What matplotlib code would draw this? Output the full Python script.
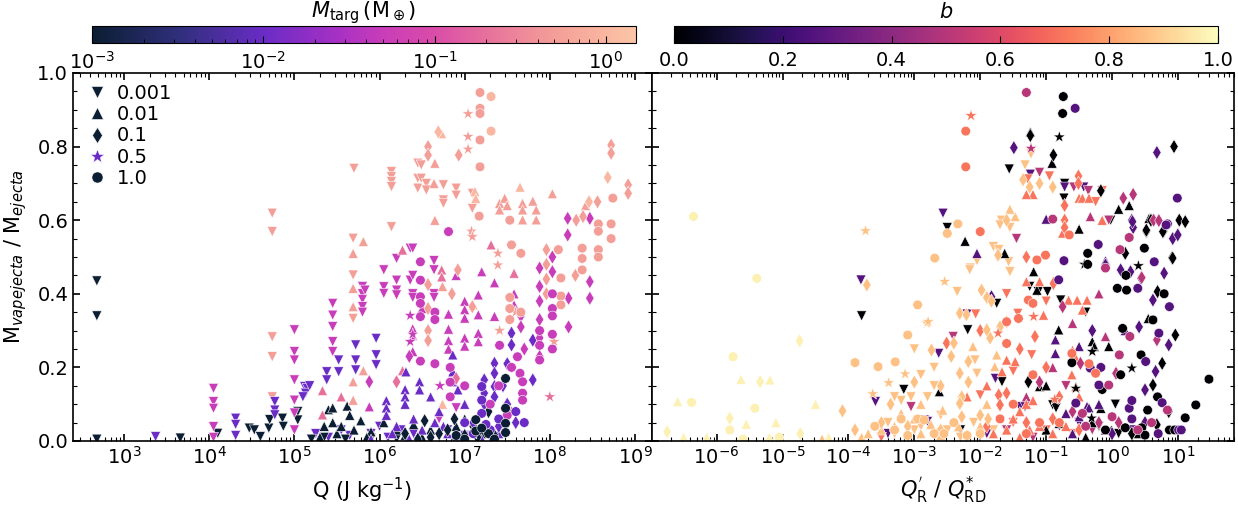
import numpy as np
import matplotlib
matplotlib.use("Agg")
import matplotlib.pyplot as plt
from matplotlib.colors import LinearSegmentedColormap, LogNorm, Normalize
from matplotlib.ticker import MultipleLocator, LogLocator, NullFormatter
from matplotlib.lines import Line2D
import matplotlib.cm as cm

# ---------------- data ----------------
# Left panel: (log10 Q [J/kg], Mvap/Mej, M_targ [M_earth])
left_v = [
    (2.68,0.435,0.001),(2.68,0.34,0.001),(2.68,0.005,0.001),(3.66,0.008,0.001),(4.10,0.021,0.001),
    (3.37,0.012,0.01),
    (4.05,0.143,0.05),(4.05,0.107,0.05),(4.05,0.089,0.05),(4.05,0.039,0.05),(4.05,0.01,0.05),
    (4.31,0.062,0.01),(4.31,0.045,0.01),(4.31,0.015,0.01),
    (4.47,0.035,0.001),(4.53,0.030,0.001),(4.60,0.012,0.001),(4.70,0.035,0.001),(4.71,0.058,0.001),
    (4.86,0.062,0.001),(4.87,0.040,0.001),(5.04,0.080,0.001),(5.04,0.057,0.001),
    (4.74,0.619,0.5),(4.74,0.569,0.5),(4.74,0.283,0.5),(4.74,0.229,0.5),(4.74,0.120,0.5),
    (4.77,0.107,0.01),(4.77,0.084,0.01),(4.77,0.071,0.01),
    (5.00,0.302,0.05),(5.00,0.243,0.05),(5.00,0.220,0.05),(5.00,0.166,0.05),(5.00,0.111,0.05),
    (5.00,0.076,0.05),(5.00,0.030,0.05),
    (5.12,0.148,0.01),(5.15,0.143,0.01),(5.13,0.130,0.01),(5.10,0.120,0.01),(5.18,0.150,0.01),
    (5.45,0.374,0.05),(5.45,0.342,0.05),(5.45,0.311,0.05),(5.45,0.270,0.05),(5.45,0.243,0.05),
    (5.52,0.220,0.01),(5.52,0.188,0.01),(5.38,0.188,0.01),(5.38,0.166,0.01),
    (5.69,0.551,0.5),(5.69,0.451,0.5),(5.69,0.333,0.5),(5.70,0.741,0.5),
    (5.80,0.420,0.05),(5.80,0.400,0.05),(5.80,0.385,0.05),(5.80,0.365,0.05),(5.80,0.350,0.05),(5.83,0.410,0.05),
    (5.72,0.261,0.01),(5.72,0.220,0.01),(5.72,0.193,0.01),
    (5.96,0.279,0.01),(5.96,0.234,0.01),(5.96,0.207,0.01),
    (6.05,0.465,0.05),(6.05,0.419,0.05),(6.05,0.401,0.05),
    (6.14,0.582,0.5),(6.14,0.732,0.5),(6.14,0.718,0.5),(6.14,0.705,0.5),(6.14,0.691,0.5),
    (6.20,0.496,0.05),(6.20,0.437,0.05),(6.20,0.410,0.05),(6.20,0.397,0.05),
    (6.36,0.524,0.05),(6.36,0.437,0.05),
    (6.45,0.755,0.5),(6.45,0.714,0.5),(6.45,0.687,0.5),(6.49,0.750,0.5),(6.49,0.714,0.5),
    (6.55,0.700,0.5),(6.55,0.682,0.5),(6.75,0.696,0.5),(6.75,0.655,0.5),(6.75,0.646,0.5),
    (6.90,0.687,0.5),(6.90,0.668,0.5),(7.09,0.673,0.5),(7.09,0.632,0.5),
    (6.39,0.524,0.05),(6.64,0.490,0.05),(6.64,0.465,0.05),(6.39,0.450,0.05),(6.39,0.400,0.05),
    (6.39,0.390,0.05),(6.64,0.400,0.05),(6.64,0.390,0.05),(6.70,0.06,0.05),(6.90,0.09,0.05),
    (5.25,0.02,0.01),(5.40,0.01,0.01),(5.55,0.03,0.01),(5.65,0.015,0.01),(5.90,0.02,0.01),
    (6.00,0.04,0.01),(6.10,0.01,0.01),(6.25,0.03,0.01),(6.40,0.02,0.01),(6.60,0.01,0.01),
    (6.80,0.03,0.01),(7.00,0.015,0.01),(7.30,0.01,0.01),
    (5.20,0.005,0.001),(5.35,0.01,0.001),(5.60,0.005,0.001),(5.90,0.008,0.001),(6.20,0.006,0.001),
]
left_t = [
    (5.40,0.085,0.001),(5.45,0.09,0.001),(5.45,0.05,0.001),(5.62,0.095,0.001),(5.78,0.055,0.001),
    (5.50,0.02,0.001),(5.55,0.04,0.001),(5.70,0.03,0.001),(5.90,0.025,0.001),(6.05,0.05,0.001),
    (6.20,0.03,0.001),(6.30,0.015,0.001),(5.30,0.01,0.001),(5.85,0.01,0.001),(6.50,0.01,0.001),(6.40,0.045,0.001),
    (5.65,0.07,0.001),(5.35,0.04,0.001),(6.60,0.03,0.001),(6.90,0.04,0.001),(7.20,0.02,0.001),(7.00,0.06,0.001),
    (5.33,0.137,0.2),(5.33,0.071,0.2),(6.27,0.519,0.2),(6.27,0.191,0.2),(6.73,0.465,0.2),(6.73,0.446,0.2),
    (7.31,0.533,0.2),(7.58,0.456,0.2),(5.55,0.12,0.2),
    (5.69,0.51,0.5),(5.69,0.415,0.5),(5.69,0.365,0.5),(5.81,0.542,0.5),(5.69,0.161,0.5),(5.69,0.111,0.5),
    (5.81,0.191,0.5),(6.65,0.755,0.5),(6.64,0.70,0.5),(6.65,0.60,0.5),(7.41,0.646,0.5),(7.41,0.628,0.5),
    (7.68,0.646,0.5),(7.68,0.628,0.5),(7.68,0.601,0.5),(7.84,0.628,0.5),(7.84,0.601,0.5),(7.47,0.66,0.5),
    (7.50,0.64,0.5),(7.80,0.652,0.5),(8.03,0.672,0.5),(8.42,0.64,0.5),(6.74,0.42,0.5),
    (6.73,0.835,1.0),(7.12,0.678,1.0),(7.13,0.659,1.0),(7.65,0.69,1.0),(6.74,0.10,1.0),(7.10,0.37,1.0),
    (5.88,0.093,0.05),(6.39,0.305,0.05),(6.39,0.287,0.05),(6.39,0.243,0.05),(6.81,0.345,0.05),(6.81,0.304,0.05),
    (6.81,0.273,0.05),(6.81,0.25,0.05),(7.00,0.38,0.05),(7.00,0.357,0.05),(7.00,0.334,0.05),(7.00,0.28,0.05),
    (7.00,0.258,0.05),(7.16,0.397,0.05),(7.16,0.343,0.05),(7.16,0.293,0.05),(7.16,0.27,0.05),(7.35,0.43,0.05),
    (7.35,0.339,0.05),(7.58,0.40,0.05),(7.58,0.37,0.05),(6.90,0.45,0.05),(7.20,0.46,0.05),(6.50,0.36,0.05),
    (6.08,0.11,0.01),(6.08,0.09,0.01),(6.08,0.07,0.01),(6.30,0.14,0.01),(6.30,0.12,0.01),(6.30,0.10,0.01),
    (6.31,0.188,0.01),(6.47,0.161,0.01),(6.47,0.139,0.01),(6.86,0.234,0.01),(6.86,0.188,0.01),(6.86,0.161,0.01),
    (6.92,0.139,0.01),(6.60,0.12,0.01),(6.70,0.08,0.01),(7.00,0.10,0.01),(6.20,0.04,0.01),(6.50,0.03,0.01),
    (6.80,0.02,0.01),(7.10,0.03,0.01),(6.40,0.06,0.01),(6.65,0.05,0.01),
    (5.90,0.005,0.01),(6.15,0.02,0.01),(6.35,0.005,0.01),(6.75,0.04,0.01),(6.95,0.01,0.01),(7.20,0.005,0.01),(7.40,0.02,0.01),
]
left_d = [
    (6.53,0.055,0.001),(6.88,0.06,0.001),(7.28,0.08,0.001),(7.28,0.035,0.001),(6.70,0.02,0.001),
    (7.00,0.015,0.001),(6.60,0.01,0.001),(7.15,0.01,0.001),(6.30,0.02,0.001),
    (6.45,0.005,0.001),(6.80,0.03,0.001),(7.10,0.04,0.001),(7.35,0.015,0.001),
    (7.35,0.211,0.01),(7.35,0.184,0.01),(7.35,0.148,0.01),(7.35,0.12,0.01),(7.23,0.166,0.01),(7.23,0.13,0.01),
    (7.23,0.10,0.01),(7.55,0.293,0.01),(7.55,0.261,0.01),(7.80,0.274,0.01),(7.80,0.166,0.01),(7.50,0.21,0.01),
    (7.45,0.15,0.01),(7.10,0.05,0.01),(7.40,0.04,0.01),(7.60,0.05,0.01),(7.50,0.10,0.01),
    (5.88,0.161,0.05),(6.35,0.23,0.05),(7.66,0.34,0.05),(7.66,0.31,0.05),(7.88,0.47,0.05),(7.88,0.42,0.05),
    (7.88,0.38,0.05),(7.88,0.33,0.05),(7.88,0.28,0.05),(7.88,0.23,0.05),(8.03,0.50,0.05),(8.03,0.46,0.05),
    (8.21,0.605,0.05),(8.21,0.56,0.05),(8.47,0.605,0.05),(8.47,0.433,0.05),(8.47,0.388,0.05),(8.22,0.388,0.05),
    (8.22,0.31,0.05),(7.70,0.25,0.05),
    (6.20,0.161,0.2),(6.90,0.17,0.2),
    (6.57,0.80,0.5),(6.57,0.777,0.5),(6.93,0.777,0.5),(6.92,0.465,0.5),(6.57,0.425,0.5),(6.57,0.36,0.5),
    (6.57,0.30,0.5),(6.57,0.273,0.5),(7.09,0.365,0.5),(7.96,0.52,0.5),(7.96,0.48,0.5),(7.96,0.44,0.5),
    (7.96,0.40,0.5),(8.30,0.45,0.5),(8.31,0.60,0.5),(8.39,0.61,0.5),(8.72,0.804,0.5),(8.72,0.782,0.5),
    (8.92,0.696,0.5),(8.92,0.673,0.5),(8.56,0.65,0.5),(6.85,0.40,0.5),
    (6.69,0.84,1.0),(8.68,0.716,1.0),(8.46,0.65,1.0),
]
left_s = [
    (6.36,0.341,0.05),(6.36,0.27,0.05),(6.39,0.29,0.05),(6.71,0.15,0.05),
    (7.04,0.889,0.5),(7.04,0.827,0.5),(7.04,0.793,0.5),(7.08,0.57,0.5),(7.09,0.555,0.5),(7.39,0.51,0.5),
    (7.39,0.478,0.5),(7.41,0.30,0.5),(7.60,0.35,0.5),(8.05,0.27,0.5),
    (7.55,0.08,0.2),(8.00,0.12,0.2),(7.10,0.02,0.01),
]
left_o = [
    (7.18,0.947,0.5),(7.18,0.904,0.5),(7.18,0.89,0.5),(7.18,0.818,0.5),(7.18,0.745,0.5),(7.17,0.611,0.5),
    (7.53,0.60,0.5),(7.55,0.533,0.5),(7.66,0.51,0.5),(7.53,0.39,0.5),(7.53,0.36,0.5),(7.53,0.33,0.5),
    (7.66,0.35,0.5),(8.13,0.443,0.5),(8.13,0.394,0.5),(8.13,0.37,0.5),(8.38,0.524,0.5),(8.38,0.496,0.5),
    (8.38,0.465,0.5),(8.57,0.59,0.5),(8.57,0.57,0.5),(8.72,0.59,0.5),(8.72,0.55,0.5),(8.57,0.52,0.5),
    (8.57,0.50,0.5),(8.74,0.66,0.5),(8.10,0.52,0.5),
    (7.31,0.936,1.0),(7.31,0.842,1.0),
    (6.81,0.569,0.05),(6.48,0.487,0.05),(6.48,0.437,0.05),(6.48,0.392,0.05),(6.48,0.374,0.05),(6.48,0.338,0.05),
    (6.65,0.35,0.05),(6.65,0.33,0.05),(6.48,0.217,0.05),(6.65,0.21,0.05),(6.83,0.20,0.05),(6.83,0.16,0.05),
    (6.83,0.12,0.05),(7.41,0.26,0.05),(7.62,0.229,0.05),(7.65,0.184,0.05),(7.68,0.161,0.05),(7.68,0.13,0.05),
    (7.68,0.111,0.05),(8.03,0.40,0.05),(8.03,0.36,0.05),(8.03,0.34,0.05),(8.03,0.29,0.05),(8.03,0.25,0.05),
    (7.88,0.30,0.05),(7.88,0.26,0.05),(7.88,0.22,0.05),(7.00,0.15,0.05),(7.30,0.10,0.05),(7.50,0.07,0.05),
    (7.40,0.15,0.05),(7.55,0.20,0.05),
    (7.20,0.148,0.01),(7.20,0.111,0.01),(7.20,0.075,0.01),(7.00,0.05,0.01),(7.30,0.03,0.01),(6.90,0.01,0.01),
    (7.10,0.02,0.01),(7.40,0.06,0.01),(7.25,0.045,0.01),(7.60,0.08,0.01),(7.70,0.05,0.01),
    (7.48,0.17,0.001),(7.48,0.089,0.001),(7.48,0.048,0.001),(7.48,0.023,0.001),(7.13,0.058,0.001),
    (7.13,0.027,0.001),(7.28,0.02,0.001),(6.90,0.015,0.001),(7.35,0.005,0.001),(7.00,0.005,0.001),(7.20,0.035,0.001),
]

# Right panel: (log10 Q'_R/Q*_RD, Mvap/Mej, b)
right_v = [
    (-3.80,0.34,0),(-3.16,0.14,0),(-2.50,0.58,0),(-2.19,0.302,0),(-1.75,0.374,0),(-1.67,0.161,0),(-1.56,0.739,0),
    (-1.25,0.42,0),(-1.12,0.406,0),(-0.98,0.406,0),(-0.78,0.383,0),(-0.72,0.70,0),(-0.73,0.66,0),(-0.02,0.60,0),
    (-0.90,0.098,0),(-0.85,0.09,0),(0.05,0.10,0),(-2.30,0.03,0),(0.10,0.02,0),(-0.20,0.04,0),(-0.40,0.35,0),
    (-3.81,0.4375,0.26),(-3.59,0.107,0.26),(-2.565,0.619,0.26),(-2.63,0.238,0.26),(-1.77,0.17,0.26),(-1.24,0.725,0.26),
    (-0.72,0.69,0.26),(-0.43,0.69,0.26),(-1.40,0.093,0.26),(-1.32,0.093,0.26),(-2.85,0.057,0.26),(-2.80,0.053,0.26),
    (-2.20,0.345,0.26),(-1.90,0.02,0.26),(-3.40,0.02,0.26),(0.30,0.03,0.26),(-0.50,0.05,0.26),
    (-3.05,0.093,0.5),(-1.10,0.73,0.5),(-0.58,0.69,0.5),(-0.36,0.68,0.5),(-0.05,0.60,0.5),(-2.41,0.284,0.5),
    (-1.45,0.55,0.5),(-2.00,0.015,0.5),(-1.60,0.03,0.5),(-1.20,0.01,0.5),(-0.80,0.04,0.5),(-0.30,0.03,0.5),
    (-0.70,0.15,0.5),
    (-1.28,0.712,0.71),(-0.95,0.72,0.71),(-0.15,0.68,0.71),(-0.25,0.65,0.71),(-2.07,0.345,0.71),(-1.60,0.40,0.71),
    (-1.43,0.347,0.71),(-1.22,0.234,0.71),(-1.50,0.19,0.71),(-2.00,0.125,0.71),(-1.00,0.38,0.71),(-3.50,0.01,0.71),
    (-2.60,0.02,0.71),(-1.50,0.05,0.71),(-1.00,0.03,0.71),(-0.60,0.02,0.71),
    (-1.23,0.78,0.87),(-1.32,0.75,0.87),(-3.05,0.12,0.87),(-3.20,0.11,0.87),(-1.68,0.60,0.87),(-1.55,0.58,0.87),
    (-1.70,0.587,0.87),(-1.80,0.528,0.87),(-1.57,0.487,0.87),(-1.55,0.46,0.87),(-1.72,0.52,0.87),(-2.05,0.49,0.87),
    (-2.15,0.47,0.87),(-2.16,0.465,0.87),(-2.35,0.406,0.87),(-2.08,0.22,0.87),(-2.05,0.184,0.87),(-2.70,0.15,0.87),
    (-2.90,0.18,0.87),(-3.40,0.05,0.87),(-3.00,0.03,0.87),(-2.80,0.12,0.87),(-2.30,0.01,0.87),(-2.60,0.07,0.87),
    (-3.30,0.02,0.87),(-2.90,0.04,0.87),(-2.50,0.03,0.87),(-2.10,0.05,0.87),(-1.80,0.03,0.87),(-3.00,0.25,0.87),
    (-2.70,0.20,0.87),(-3.30,0.12,0.87),
]
right_t = [
    (-1.24,0.84,0),(-0.91,0.755,0),(-2.23,0.543,0),(-1.63,0.51,0),(-1.19,0.46,0),(-1.14,0.41,0),(-0.50,0.576,0),
    (0.10,0.63,0),(0.26,0.64,0),(0.56,0.605,0),(-0.81,0.302,0),(-0.30,0.27,0),(-0.27,0.257,0),(-0.05,0.257,0),
    (0.55,0.333,0),(-2.62,0.134,0),(-0.17,0.089,0),(-0.01,0.03,0),(-0.80,0.048,0),(-1.00,0.03,0),(-1.10,0.148,0),
    (-1.00,0.15,0),(-0.40,0.01,0),(-0.30,0.05,0),(0.40,0.02,0),
    (-1.00,0.603,0.26),(-2.05,0.51,0.26),(-0.10,0.49,0.26),(-0.86,0.275,0.26),(-0.50,0.257,0.26),(-0.86,0.238,0.26),
    (-0.38,0.094,0.26),(-0.35,0.09,0.26),(-0.20,0.10,0.26),(-0.70,0.075,0.26),(-0.50,0.066,0.26),(0.20,0.30,0.26),
    (-0.60,0.02,0.26),(-0.10,0.03,0.26),
    (-0.33,0.61,0.5),(-0.10,0.284,0.5),(-1.30,0.12,0.5),(-0.90,0.20,0.5),(-0.60,0.32,0.5),(-0.20,0.40,0.5),
    (-1.20,0.67,0.71),(-1.30,0.67,0.71),(-0.50,0.66,0.71),(-0.45,0.66,0.71),(-0.35,0.66,0.71),(-0.15,0.60,0.71),
    (-0.75,0.565,0.71),(-1.04,0.342,0.71),(-1.47,0.216,0.71),(-1.67,0.188,0.71),(-1.30,0.433,0.71),(-1.10,0.433,0.71),
    (-0.66,0.383,0.71),(-0.53,0.383,0.71),(-0.45,0.356,0.71),(-0.38,0.383,0.71),(-0.60,0.247,0.71),(-0.55,0.225,0.71),
    (-0.61,0.18,0.71),(-0.55,0.148,0.71),(-0.50,0.12,0.71),(-1.30,0.10,0.71),(-1.40,0.08,0.71),(-1.20,0.11,0.71),
    (-1.60,0.03,0.71),(-1.10,0.04,0.71),(-0.90,0.02,0.71),(-1.40,0.01,0.71),(-1.80,0.02,0.71),(-1.25,0.03,0.71),
    (-0.70,0.04,0.71),(-1.50,0.06,0.71),(-1.90,0.15,0.71),(-1.60,0.22,0.71),(-2.20,0.12,0.71),
    (-1.47,0.61,0.87),(-1.55,0.63,0.87),(-2.11,0.257,0.87),(-1.75,0.234,0.87),(-1.78,0.202,0.87),(-3.20,0.075,0.87),
    (-2.57,0.084,0.87),(-2.33,0.039,0.87),(-3.50,0.03,0.87),(-3.80,0.01,0.87),(-4.40,0.005,0.87),(-2.90,0.02,0.87),
    (-2.75,0.045,0.87),(-3.00,0.06,0.87),(-1.90,0.10,0.87),(-3.70,0.02,0.87),(-3.30,0.04,0.87),(-2.60,0.015,0.87),
    (-2.20,0.02,0.87),(-2.00,0.04,0.87),(-2.90,0.10,0.87),
    (-5.63,0.168,0.97),(-5.19,0.166,0.97),(-6.59,0.107,0.97),(-5.55,0.046,0.97),(-5.10,0.05,0.97),(-6.50,0.01,0.97),
    (-6.15,0.01,0.97),(-5.20,0.01,0.97),(-4.50,0.10,0.97),(-4.30,0.01,0.97),
]
right_d = [
    (-1.24,0.83,0),(-0.89,0.777,0),(-0.17,0.68,0),(0.59,0.60,0),(0.52,0.57,0),(0.78,0.57,0),(1.02,0.60,0),
    (0.94,0.80,0),(0.91,0.498,0),(0.20,0.51,0),(0.52,0.573,0),(0.77,0.569,0),(1.11,0.596,0),(0.92,0.497,0),
    (0.69,0.406,0),(0.96,0.288,0),(0.76,0.211,0),(0.62,0.152,0),(0.86,0.08,0),(0.68,0.044,0),(-1.27,0.161,0),(0.30,0.02,0),
    (-1.49,0.797,0.26),(0.68,0.784,0.26),(0.30,0.60,0.26),(0.32,0.58,0.26),(0.92,0.55,0.26),(-1.83,0.392,0.26),
    (-0.10,0.478,0.26),(0.13,0.465,0.26),(0.28,0.46,0.26),(0.31,0.596,0.26),(0.44,0.442,0.26),(0.79,0.456,0.26),
    (0.62,0.383,0.26),(0.41,0.31,0.26),(0.86,0.261,0.26),(0.66,0.189,0.26),(0.50,0.139,0.26),(0.997,0.56,0.26),
    (0.00,0.02,0.26),(0.50,0.05,0.26),(-0.30,0.30,0.26),
    (0.17,0.66,0.5),(0.32,0.67,0.5),(0.63,0.60,0.5),(0.71,0.599,0.5),(0.45,0.444,0.5),(-0.48,0.211,0.5),
    (0.06,0.184,0.5),(0.68,0.275,0.5),(-0.75,0.365,0.5),(-1.10,0.16,0.5),(-0.20,0.05,0.5),(-0.60,0.08,0.5),(0.10,0.05,0.5),
    (-0.51,0.72,0.71),(-0.51,0.70,0.71),(-0.72,0.64,0.71),(-0.72,0.60,0.71),(-0.72,0.58,0.71),(-1.30,0.50,0.71),
    (-2.51,0.266,0.71),(-1.17,0.284,0.71),(-0.89,0.428,0.71),(-1.60,0.13,0.71),(-1.72,0.125,0.71),(-1.70,0.098,0.71),
    (-1.40,0.25,0.71),(-1.00,0.20,0.71),(-0.80,0.12,0.71),(-2.00,0.30,0.71),(-1.90,0.04,0.71),(-1.30,0.05,0.71),
    (-0.90,0.06,0.71),(-0.50,0.03,0.71),
    (-3.72,0.424,0.87),(-3.36,0.10,0.87),(-4.09,0.082,0.87),(-1.60,0.60,0.87),(-1.73,0.505,0.87),(-1.98,0.41,0.87),
    (-1.90,0.39,0.87),(-1.83,0.38,0.87),(-2.31,0.347,0.87),(-2.21,0.343,0.87),(-2.40,0.266,0.87),(-2.74,0.247,0.87),
    (-2.44,0.23,0.87),(-2.18,0.216,0.87),(-1.85,0.28,0.87),(-1.90,0.302,0.87),(-1.70,0.31,0.87),(-1.60,0.324,0.87),
    (-2.31,0.184,0.87),(-2.18,0.16,0.87),(-2.28,0.12,0.87),(-2.31,0.102,0.87),(-2.28,0.066,0.87),(-2.00,0.07,0.87),
    (-1.88,0.06,0.87),(-1.25,0.69,0.87),(-1.10,0.70,0.87),(-0.90,0.69,0.87),(-1.35,0.71,0.87),(-3.00,0.16,0.87),
    (-3.90,0.03,0.87),(-3.50,0.05,0.87),(-3.10,0.04,0.87),(-2.60,0.03,0.87),(-2.60,0.15,0.87),
    (-4.74,0.272,0.97),(-5.34,0.161,0.97),(-5.80,0.062,0.97),(-6.75,0.025,0.97),(-4.73,0.02,0.97),
]
right_s = [
    (-0.80,0.826,0),(0.40,0.476,0),(-0.42,0.48,0),(-0.30,0.243,0),(0.30,0.198,0),(-0.55,0.143,0),(-0.31,0.062,0),
    (-1.23,0.795,0.5),
    (-2.14,0.884,0.71),(-1.73,0.293,0.71),(-1.19,0.338,0.71),(-0.87,0.113,0.71),
    (-3.74,0.571,0.87),(-2.81,0.32,0.87),(-3.14,0.182,0.87),(-3.39,0.158,0.87),(-3.63,0.128,0.87),(-2.54,0.433,0.87),
    (-2.79,0.324,0.87),
]
right_o = [
    (-0.74,0.936,0),(-0.75,0.89,0),(0.49,0.524,0),(-0.37,0.51,0),(-0.37,0.48,0),(0.21,0.45,0),(0.08,0.415,0),
    (0.22,0.41,0),(0.79,0.40,0),(0.62,0.329,0),(0.16,0.306,0),(0.44,0.234,0),(-0.61,0.213,0),(0.13,0.18,0),
    (1.47,0.168,0),(0.69,0.12,0),(1.27,0.098,0),(1.11,0.063,0),(0.54,0.084,0),(0.87,0.03,0),(0.95,0.03,0),
    (0.20,0.036,0),(0.45,0.036,0),(0.50,0.016,0),(-0.15,0.14,0),(-0.10,0.03,0),
    (-0.56,0.904,0.26),(0.84,0.59,0.26),(0.99,0.66,0.26),(0.64,0.487,0.26),(-0.21,0.534,0.26),(-0.73,0.49,0.26),
    (0.39,0.415,0.26),(0.87,0.365,0.26),(0.71,0.293,0.26),(0.51,0.216,0.26),(-0.33,0.198,0.26),(-0.17,0.20,0.26),
    (-0.20,0.152,0.26),(-0.55,0.103,0.26),(0.76,0.104,0.26),(0.26,0.089,0.26),(0.30,0.11,0.26),(1.01,0.03,0.26),
    (1.05,0.03,0.26),(-0.81,0.438,0.26),(0.82,0.587,0.26),(0.30,0.06,0.26),(0.70,0.02,0.26),
    (-1.30,0.947,0.5),(0.26,0.553,0.5),(0.12,0.52,0.5),(-0.90,0.603,0.5),(-0.10,0.47,0.5),(0.27,0.284,0.5),
    (0.11,0.234,0.5),(-0.05,0.152,0.5),(0.84,0.084,0.5),(0.00,0.066,0.5),(0.39,0.03,0.5),(-0.45,0.075,0.5),
    (-0.40,0.04,0.5),(0.60,0.05,0.5),
    (-2.22,0.842,0.71),(-2.22,0.745,0.71),(-0.65,0.56,0.71),(-2.00,0.569,0.71),(-1.01,0.505,0.71),(-1.14,0.492,0.71),
    (-1.60,0.324,0.71),(-1.60,0.265,0.71),(-1.42,0.333,0.71),(-1.27,0.383,0.71),(-1.20,0.374,0.71),(-0.61,0.238,0.71),
    (-0.35,0.21,0.71),(-0.25,0.184,0.71),(-1.10,0.05,0.71),(-1.50,0.10,0.71),(-1.70,0.06,0.71),(-1.30,0.02,0.71),
    (-0.80,0.05,0.71),(-1.20,0.18,0.71),
    (-2.95,0.37,0.87),(-3.10,0.288,0.87),(-3.90,0.213,0.87),(-3.55,0.202,0.87),(-3.29,0.215,0.87),(-2.95,0.06,0.87),
    (-2.34,0.59,0.87),(-2.50,0.564,0.87),(-2.69,0.497,0.87),(-2.85,0.057,0.87),(-2.70,0.02,0.87),(-2.55,0.02,0.87),
    (-2.20,0.015,0.87),(-2.00,0.02,0.87),(-3.30,0.03,0.87),(-3.10,0.015,0.87),(-3.60,0.04,0.87),(-3.20,0.06,0.87),
    (-2.40,0.05,0.87),
    (-6.35,0.61,0.97),(-5.39,0.442,0.97),(-5.75,0.229,0.97),(-6.38,0.105,0.97),(-5.42,0.089,0.97),(-5.80,0.03,0.97),
    (-5.60,0.005,0.97),(-5.05,0.01,0.97),
]

legend_labels = ["0.001", "0.01", "0.1", "0.5", "1.0"]
markers = ["v", "^", "d", "*", "o"]
left_xticks = [1e3, 1e4, 1e5, 1e6, 1e7, 1e8, 1e9]
right_xticks = [1e-6, 1e-5, 1e-4, 1e-3, 1e-2, 1e-1, 1e0, 1e1]

# ---------------- style ----------------
plt.rcParams["font.family"] = ["DejaVu Sans"]
plt.rcParams["mathtext.fontset"] = "dejavusans"

targ_cmap = LinearSegmentedColormap.from_list("targ", [
    (0.0, "#0b1e33"), (0.16, "#302f7c"), (0.315, "#6a2cc6"), (0.45, "#a630c4"),
    (0.535, "#c93db9"), (0.63, "#d94ca8"), (0.725, "#e6709c"), (0.85, "#f49e98"),
    (0.945, "#f9b6a0"), (1.0, "#fcc6a6")])
targ_norm = LogNorm(vmin=1e-3, vmax=1.5)
b_cmap = plt.get_cmap("magma")
b_norm = Normalize(vmin=0.0, vmax=1.0)

sizes = {"v": 52, "^": 52, "d": 52, "*": 85, "o": 48}

fig = plt.figure(figsize=(12.38, 5.08), dpi=100)
W, H = 1238.0, 508.0
ax1 = fig.add_axes([73 / W, 67 / H, 579 / W, 368 / H])
ax2 = fig.add_axes([652 / W, 67 / H, 582 / W, 368 / H])
cax1 = fig.add_axes([92 / W, (H - 43) / H, 544 / W, 17 / H])
cax2 = fig.add_axes([674 / W, (H - 43) / H, 544 / W, 17 / H])

for data, mk in zip([left_v, left_t, left_d, left_s, left_o], markers):
    a = np.array(data)
    ax1.scatter(10 ** a[:, 0], a[:, 1], c=a[:, 2], cmap=targ_cmap, norm=targ_norm,
                marker=mk, s=sizes[mk], edgecolors="white", linewidths=0.4, zorder=2)

for data, mk in zip([right_v, right_t, right_d, right_s, right_o], markers):
    a = np.array(data)
    ax2.scatter(10 ** a[:, 0], a[:, 1], c=a[:, 2], cmap=b_cmap, norm=b_norm,
                marker=mk, s=sizes[mk], edgecolors="white", linewidths=0.4, zorder=2)

for ax, xt in ((ax1, left_xticks), (ax2, right_xticks)):
    ax.set_xscale("log")
    ax.set_ylim(0.0, 1.0)
    ax.yaxis.set_major_locator(MultipleLocator(0.2))
    ax.yaxis.set_minor_locator(MultipleLocator(0.05))
    ax.xaxis.set_minor_locator(LogLocator(base=10, subs=np.arange(2, 10), numticks=20))
    ax.xaxis.set_minor_formatter(NullFormatter())
    ax.set_xticks(xt)
    ax.set_xticklabels([r"$10^{%d}$" % int(round(np.log10(v))) for v in xt])
    ax.tick_params(which="both", direction="in", top=True, right=True, labelsize=14)
    ax.tick_params(which="major", length=5, width=1.2)
    ax.tick_params(which="minor", length=3, width=0.8)
    for sp in ax.spines.values():
        sp.set_linewidth(1.2)

ax1.set_xlim(10 ** 2.40, 10 ** 9.2)
ax2.set_xlim(10 ** -6.98, 10 ** 1.85)
ax1.set_yticks([0.0, 0.2, 0.4, 0.6, 0.8, 1.0])
ax1.set_yticklabels(["0.0", "0.2", "0.4", "0.6", "0.8", "1.0"])
ax2.tick_params(labelleft=False)

ax1.set_xlabel(r"Q (J kg$^{-1}$)", fontsize=15, labelpad=6)
ax2.set_xlabel(r"$Q_{\rm R}^{'}$ / $Q_{\rm RD}^{*}$", fontsize=15, labelpad=5)
ax1.set_ylabel(r"M$_{vapejecta}$ / M$_{ejecta}$", fontsize=15, labelpad=6)

# legend
leg_colors = ["#0b1e33", "#0b1e33", "#0b1e33", "#6a2cc6", "#0b1e33"]
handles = [Line2D([0], [0], marker=mk, linestyle="none", color=c, markeredgecolor="white",
                  markeredgewidth=0.4, markersize=(10 if mk == "*" else 8))
           for mk, c in zip(markers, leg_colors)]
ax1.legend(handles, legend_labels, loc="upper left", frameon=False, fontsize=14,
           handlelength=0.8, handletextpad=0.6, labelspacing=0.12, borderaxespad=0.15,
           bbox_to_anchor=(0.01, 1.0))

# colorbars
sm1 = cm.ScalarMappable(norm=targ_norm, cmap=targ_cmap)
cb1 = fig.colorbar(sm1, cax=cax1, orientation="horizontal")
cb1.set_ticks([1e-3, 1e-2, 1e-1, 1e0])
cb1.set_ticklabels([r"$10^{-3}$", r"$10^{-2}$", r"$10^{-1}$", r"$10^{0}$"])
cb1.set_label(r"$M_{\rm targ}\,({\rm M}_\oplus)$", fontsize=15, labelpad=6)
sm2 = cm.ScalarMappable(norm=b_norm, cmap=b_cmap)
cb2 = fig.colorbar(sm2, cax=cax2, orientation="horizontal")
cb2.set_ticks([0.0, 0.2, 0.4, 0.6, 0.8, 1.0])
cb2.set_ticklabels(["0.0", "0.2", "0.4", "0.6", "0.8", "1.0"])
cb2.set_label(r"$b$", fontsize=15, labelpad=6)
for cax in (cax1, cax2):
    cax.xaxis.set_label_position("top")
    cax.xaxis.set_ticks_position("bottom")
    cax.tick_params(which="both", direction="in", labelsize=14, pad=6)
    cax.tick_params(which="major", length=5)
    cax.tick_params(which="minor", length=3)

fig.savefig("out.png", dpi=100)
